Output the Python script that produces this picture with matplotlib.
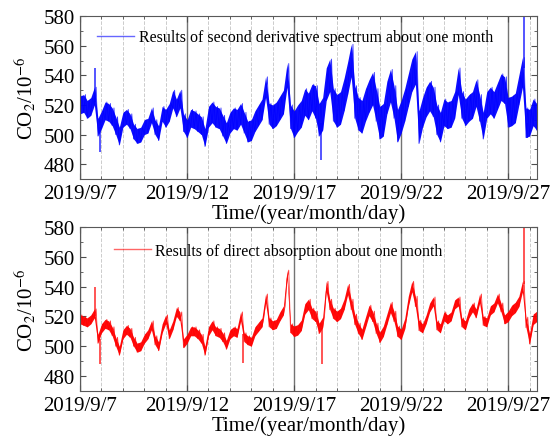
import numpy as np
import matplotlib
matplotlib.use("Agg")
import matplotlib.pyplot as plt

plt.rcParams['font.family'] = ['Liberation Serif', 'DejaVu Serif']
plt.rcParams['mathtext.fontset'] = 'stix'

# CO2 readings every 4 hours from 2019/9/7 00:00 (6 per day)
blue_mid = [
    520, 521, 517, 519, 526, 505,
    510, 516, 515, 512, 506, 499,
    510, 512, 509, 502, 499, 500,
    505, 506, 513, 505, 501, 514,
    511, 515, 524, 518, 524, 508,
    504, 511, 510, 508, 506, 498,
    512, 515, 512, 511, 506, 501,
    508, 511, 510, 514, 508, 502,
    503, 509, 513, 517, 532, 514,
    512, 514, 518, 522, 540, 512,
    507, 511, 514, 522, 519, 525,
    522, 510, 514, 534, 540, 520,
    516, 518, 527, 538, 550, 522,
    514, 512, 520, 526, 531, 520,
    508, 510, 525, 533, 522, 506,
    512, 520, 530, 540, 545, 505,
    515, 522, 526, 522, 510, 505,
    515, 513, 514, 520, 536, 520,
    515, 518, 520, 528, 518, 506,
    520, 523, 520, 526, 532, 530,
    515, 516, 518, 530, 542, 508,
    508, 515, 512,
]
# half width of the noisy band, one value per day
blue_spread = [6, 6, 5, 5, 6, 6, 7, 7, 7, 8, 9, 11, 11, 11, 11, 11, 10, 9, 9, 9, 10, 9]
# thin single spikes (day, base, tip)
blue_spike_t = [0.69, 0.92, 11.27, 20.75, 20.9]
blue_spike_base = [522, 505, 508, 545, 508]
blue_spike_tip = [545, 488, 483, 585, 498]

red_mid = [
    518, 517, 516, 518, 522, 505,
    512, 515, 514, 510, 503, 497,
    508, 511, 509, 503, 499, 500,
    505, 508, 514, 504, 500, 512,
    518, 508, 514, 523, 520, 502,
    505, 510, 510, 508, 505, 497,
    510, 514, 510, 509, 506, 501,
    508, 510, 509, 520, 506, 504,
    503, 510, 513, 516, 532, 516,
    514, 515, 520, 524, 548, 512,
    510, 511, 514, 525, 528, 522,
    520, 512, 516, 540, 528, 522,
    520, 522, 528, 538, 528, 518,
    512, 508, 516, 524, 520, 512,
    506, 510, 518, 526, 520, 510,
    508, 515, 530, 540, 530, 514,
    512, 518, 526, 530, 514, 512,
    520, 518, 520, 528, 530, 516,
    514, 522, 526, 522, 532, 517,
    516, 524, 526, 532, 526, 518,
    520, 524, 526, 530, 540, 516,
    505, 518, 520,
]
red_spread = [3, 3, 3, 3, 3, 3, 3, 3, 3, 3, 3.5, 3.5, 3.5, 3.5, 3.5, 3.5, 3, 3, 3, 3, 3.5, 3.5]
red_spike_t = [0.69, 0.92, 7.62, 11.3, 20.75]
red_spike_base = [520, 505, 508, 512, 542]
red_spike_tip = [540, 488, 489, 488, 585]

tick_pos = [0, 5, 10, 15, 20]
tick_labels = ["2019/9/7", "2019/9/12", "2019/9/17", "2019/9/22", "2019/9/27"]

labels = ["Results of second derivative spectrum about one month",
          "Results of direct absorption about one month"]


def draw(ax, mid, spread, sp_t, sp_base, sp_tip, color, label, leg_x, leg_y):
    mid = np.array(mid, dtype=float)
    t = np.arange(len(mid)) / 6.0
    sp = np.array([spread[int(v)] for v in t], dtype=float)
    lo = mid - sp
    hi = mid + sp
    ax.fill_between(t, lo, hi, color=color, lw=0, alpha=0.95)
    xs = np.empty(2 * len(t))
    ys = np.empty(2 * len(t))
    xs[0::2] = t
    xs[1::2] = t + 1 / 12
    ys[0::2] = lo
    ys[1::2] = hi
    ax.plot(xs, ys, color=color, lw=0.6, alpha=0.8, label=label)
    ax.vlines(sp_t, sp_base, sp_tip, color=color, lw=1.1, alpha=0.85)

    ax.set_xlim(0, 21.35)
    ax.set_ylim(470, 580)
    ax.set_xticks(tick_pos)
    ax.set_xticklabels(tick_labels)
    ax.set_xticks(range(22), minor=True)
    ax.set_yticks(range(480, 581, 20))
    ax.set_yticks(range(470, 581, 10), minor=True)
    ax.grid(which='major', axis='x', color='0.45', lw=1.0)
    ax.grid(which='minor', axis='x', color='0.8', lw=0.7, ls='--')
    ax.set_axisbelow(True)
    ax.tick_params(which='both', direction='in', top=True, right=True,
                   labelsize=15, colors='0.3', labelcolor='black')
    ax.tick_params(which='major', length=4)
    ax.tick_params(which='minor', length=2.5)
    for s in ax.spines.values():
        s.set_color('0.35')
    ax.set_xlabel("Time/(year/month/day)", fontsize=15, labelpad=0)
    ax.set_ylabel("CO$_2$/10$^{-6}$", fontsize=15, labelpad=4)
    leg = ax.legend(loc='center left', bbox_to_anchor=(leg_x, leg_y), frameon=False,
                    fontsize=11.5, borderpad=0, borderaxespad=0, handlelength=2.3,
                    handletextpad=0.3)
    for h in leg.legend_handles:
        h.set_linewidth(1.0)
        h.set_alpha(0.6)


fig = plt.figure(figsize=(5.6, 4.39), dpi=100)
ax1 = fig.add_axes([0.143, 0.590, 0.816, 0.371])
ax2 = fig.add_axes([0.143, 0.107, 0.816, 0.374])

draw(ax1, blue_mid, blue_spread, blue_spike_t, blue_spike_base, blue_spike_tip,
     'blue', labels[0], 0.037, 0.871)
draw(ax2, red_mid, red_spread, red_spike_t, red_spike_base, red_spike_tip,
     'red', labels[1], 0.074, 0.854)

fig.savefig('out.png', dpi=100)
